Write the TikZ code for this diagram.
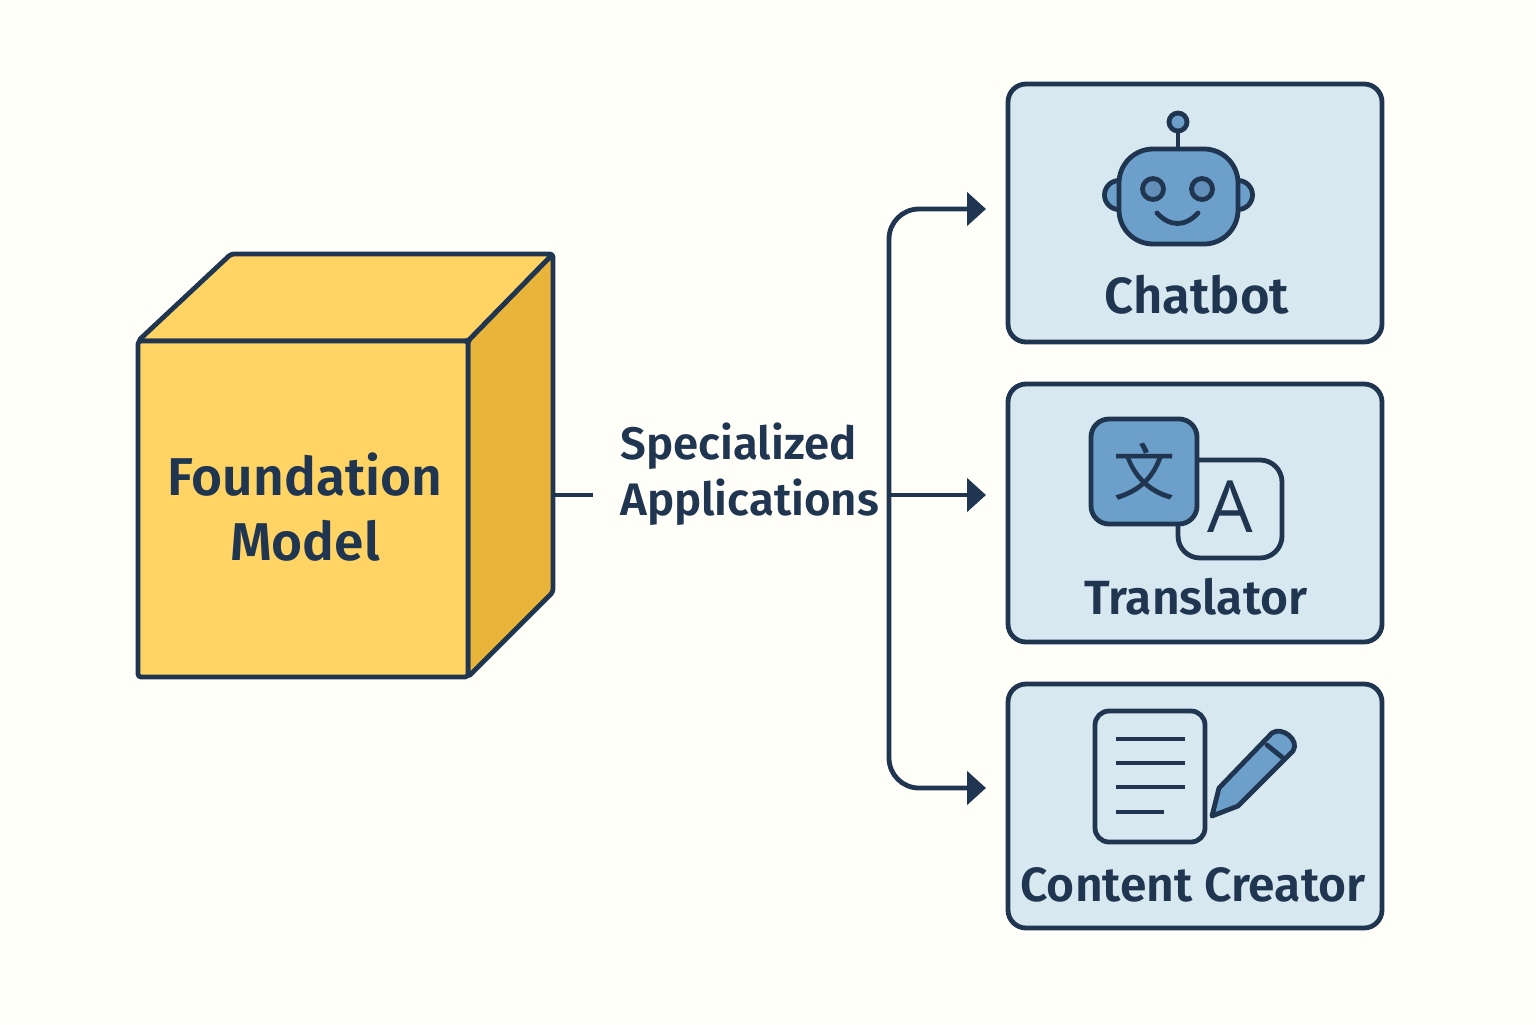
\documentclass[tikz,border=0pt]{standalone}
\usepackage{fontspec}
\setmainfont{Fira Sans}[BoldFont={Fira Sans SemiBold}]
\newfontfamily\cjkfont{Noto Sans CJK SC}
\newfontfamily\glyphfont{Open Sans}
\usetikzlibrary{positioning,arrows.meta}
\definecolor{navy}{HTML}{1F3550}
\definecolor{paper}{HTML}{FFFEF9}
\definecolor{cardblue}{HTML}{D7E8F1}
\definecolor{iconblue}{HTML}{6D9FCB}
\definecolor{cubefront}{HTML}{FFD364}
\definecolor{cubeside}{HTML}{E8B43A}
\tikzset{
    outline/.style={draw=navy,line width=2.4pt,line join=round,line cap=round},
    link/.style={navy,line width=2.4pt,-{Triangle[length=9.5pt,width=16.5pt]},shorten >=11pt},
    card/.style={outline,fill=cardblue,rounded corners=9pt,minimum width=187pt,inner sep=0pt},
    title/.style={text=navy,font=\bfseries\fontsize{24}{28}\selectfont,inner sep=0pt}
}

\begin{document}
\begin{tikzpicture}[x=0.5pt,y=-0.5pt]
    \fill[paper] (0,0) rectangle (1536,1024);

    \draw[outline,fill=cubefront,rounded corners=1.5pt] (138,341) -- (231,254) -- (553,254) -- (468,341) -- cycle;
    \draw[outline,fill=cubeside,rounded corners=1.5pt] (468,341) -- (553,254) -- (553,592) -- (468,677) -- cycle;
    \node[outline,fill=cubefront,rounded corners=1.5pt,minimum width=165pt,minimum height=168pt,inner sep=0pt] (cube) at (303,509) {};
    \node[text=navy,align=center,inner sep=0pt,font=\bfseries\fontsize{26.6}{32.5}\selectfont] (cubelabel) at (305,507) {Foundation\\Model};

    \node[text=navy,font=\bfseries\fontsize{22.8}{28}\selectfont,align=left,inner sep=0pt,anchor=west] (speclabel) at (620,474) {Specialized\\Applications};

    \node[card,minimum height=129pt] (chatbot) at (1195,213) {};
    \node[card,minimum height=129pt] (translator) at (1195,513) {};
    \node[card,minimum height=122pt] (creator) at (1195,806) {};
    \node[title,font=\bfseries\fontsize{25.4}{28}\selectfont] (chatlabel) at (1197,295) {Chatbot};
    \node[title] (translabel) at (1196,597) {Translator};
    \node[title] (creatorlabel) at (1193,885) {Content Creator};

    \coordinate (cubeout) at (553,495);
    \coordinate (stubend) at (593,495);
    \coordinate (hub) at (889,495);
    \coordinate (chatin) at (1008,209);
    \coordinate (transin) at (1008,495);
    \coordinate (creatorin) at (1008,788);

    \draw[navy,line width=2.4pt] (cubeout) -- (stubend);
    \draw[link,rounded corners=15pt] (hub) |- (chatin);
    \draw[link] (hub) -- (transin);
    \draw[link,rounded corners=15pt] (hub) |- (creatorin);

    \draw[outline,fill=iconblue] (1119,195) circle[radius=14.5];
    \draw[outline,fill=iconblue] (1238,195) circle[radius=14.5];
    \draw[outline] (1178,131) -- (1178,149);
    \draw[outline,fill=iconblue] (1178,122) circle[radius=9];
    \draw[outline,fill=iconblue,rounded corners=17pt] (1119,149) rectangle (1238,244);
    \draw[outline,fill=iconblue!85!navy] (1153,189) circle[radius=10.5];
    \draw[outline,fill=iconblue!85!navy] (1202,189) circle[radius=10.5];
    \draw[outline] (1157,213) .. controls (1170,227) and (1185,227) .. (1198,213);

    \draw[outline,rounded corners=11pt] (1178,460) rectangle (1282,558);
    \node[outline,fill=iconblue,rounded corners=9pt,minimum width=53pt,minimum height=52.5pt,inner sep=0pt,text=navy,font=\cjkfont\fontsize{31}{31}\selectfont] (wen) at (1144,471.5) {文};
    \node[text=navy,font=\glyphfont\fontsize{36}{36}\selectfont,inner sep=0pt] (latin) at (1230,507) {A};

    \draw[outline,rounded corners=7pt] (1095,711) rectangle (1205,842);
    \draw[outline,line cap=butt] (1116,739) -- (1185,739);
    \draw[outline,line cap=butt] (1116,763) -- (1185,763);
    \draw[outline,line cap=butt] (1116,787) -- (1185,787);
    \draw[outline,line cap=butt] (1116,812) -- (1164,812);
    \draw[outline,fill=iconblue] (1212,816) -- (1219,788) -- (1272,733) .. controls (1282,726) and (1300,740) .. (1293,751) -- (1238,806) -- cycle;
    \draw[outline] (1267,745) -- (1283,758);
\end{tikzpicture}
\end{document}
